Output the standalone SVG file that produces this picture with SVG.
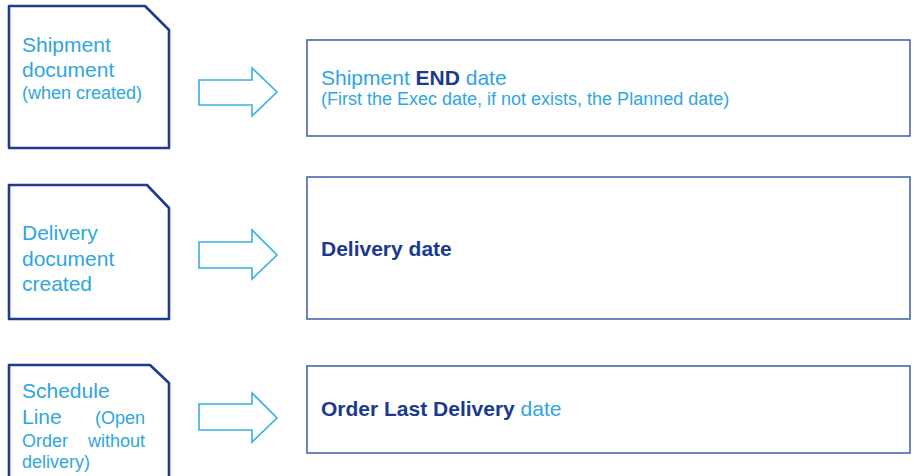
<svg xmlns="http://www.w3.org/2000/svg" width="914" height="476" viewBox="0 0 914 476">
<style>
.src{fill:#fff;stroke:#1f3b8f;stroke-width:2.6;stroke-linejoin:round}
.dst{fill:#fff;stroke:#4a64b0;stroke-width:1.6}
.arr{fill:#fff;stroke:#3aaee8;stroke-width:1.6;stroke-linejoin:miter}
text{font-family:"Liberation Sans",Arial,sans-serif}
.lt{fill:#2ea6e2}
.dk{fill:#1a3a8c;font-weight:bold}
.big{font-size:21px}
.sm{font-size:18px}
</style>
<rect width="914" height="476" fill="#fff"/>
<g id="connectors">
<polygon class="arr" points="199,80 252,80 252,68 277,92 252,116 252,105 199,105"/>
<polygon class="arr" points="199,242 252,242 252,230 277,255 252,279 252,268 199,268"/>
<polygon class="arr" points="199,404 252,404 252,393 277,418 252,442 252,430 199,430"/>
</g>
<g id="src-shipment">
<path class="src" d="M9,6 H145 L169,30 V148 H9 Z"/>
<text class="lt big" x="22" y="52">Shipment</text>
<text class="lt big" x="22" y="77">document</text>
<text class="lt sm" x="22" y="99">(when created)</text>
</g>
<g id="src-delivery">
<path class="src" d="M9,185 H147 L169,208 V319 H9 Z"/>
<text class="lt big" x="22" y="240">Delivery</text>
<text class="lt big" x="22" y="266">document</text>
<text class="lt big" x="22" y="291">created</text>
</g>
<g id="src-schedule">
<path class="src" d="M9,365 H150 L169,383 V490 H9 Z"/>
<text class="lt big" x="22" y="398">Schedule</text>
<text class="lt big" x="22" y="424">Line</text>
<text class="lt sm" x="145" y="424" text-anchor="end">(Open</text>
<text class="lt sm" x="22" y="447">Order</text>
<text class="lt sm" x="145" y="447" text-anchor="end">without</text>
<text class="lt sm" x="22" y="468">delivery)</text>
</g>
<g id="dst-shipment-end">
<rect class="dst" x="307" y="40" width="603" height="96"/>
<text class="big" x="321" y="85"><tspan class="lt">Shipment </tspan><tspan class="dk">END</tspan><tspan class="lt"> date</tspan></text>
<text class="lt sm" x="321" y="105">(First the Exec date, if not exists, the Planned date)</text>
</g>
<g id="dst-delivery-date">
<rect class="dst" x="307" y="177" width="603" height="142"/>
<text class="dk big" x="321" y="256">Delivery date</text>
</g>
<g id="dst-order-last">
<rect class="dst" x="307" y="366" width="603" height="87"/>
<text class="big" x="321" y="416"><tspan class="dk">Order Last Delivery</tspan><tspan class="lt"> date</tspan></text>
</g>
</svg>
